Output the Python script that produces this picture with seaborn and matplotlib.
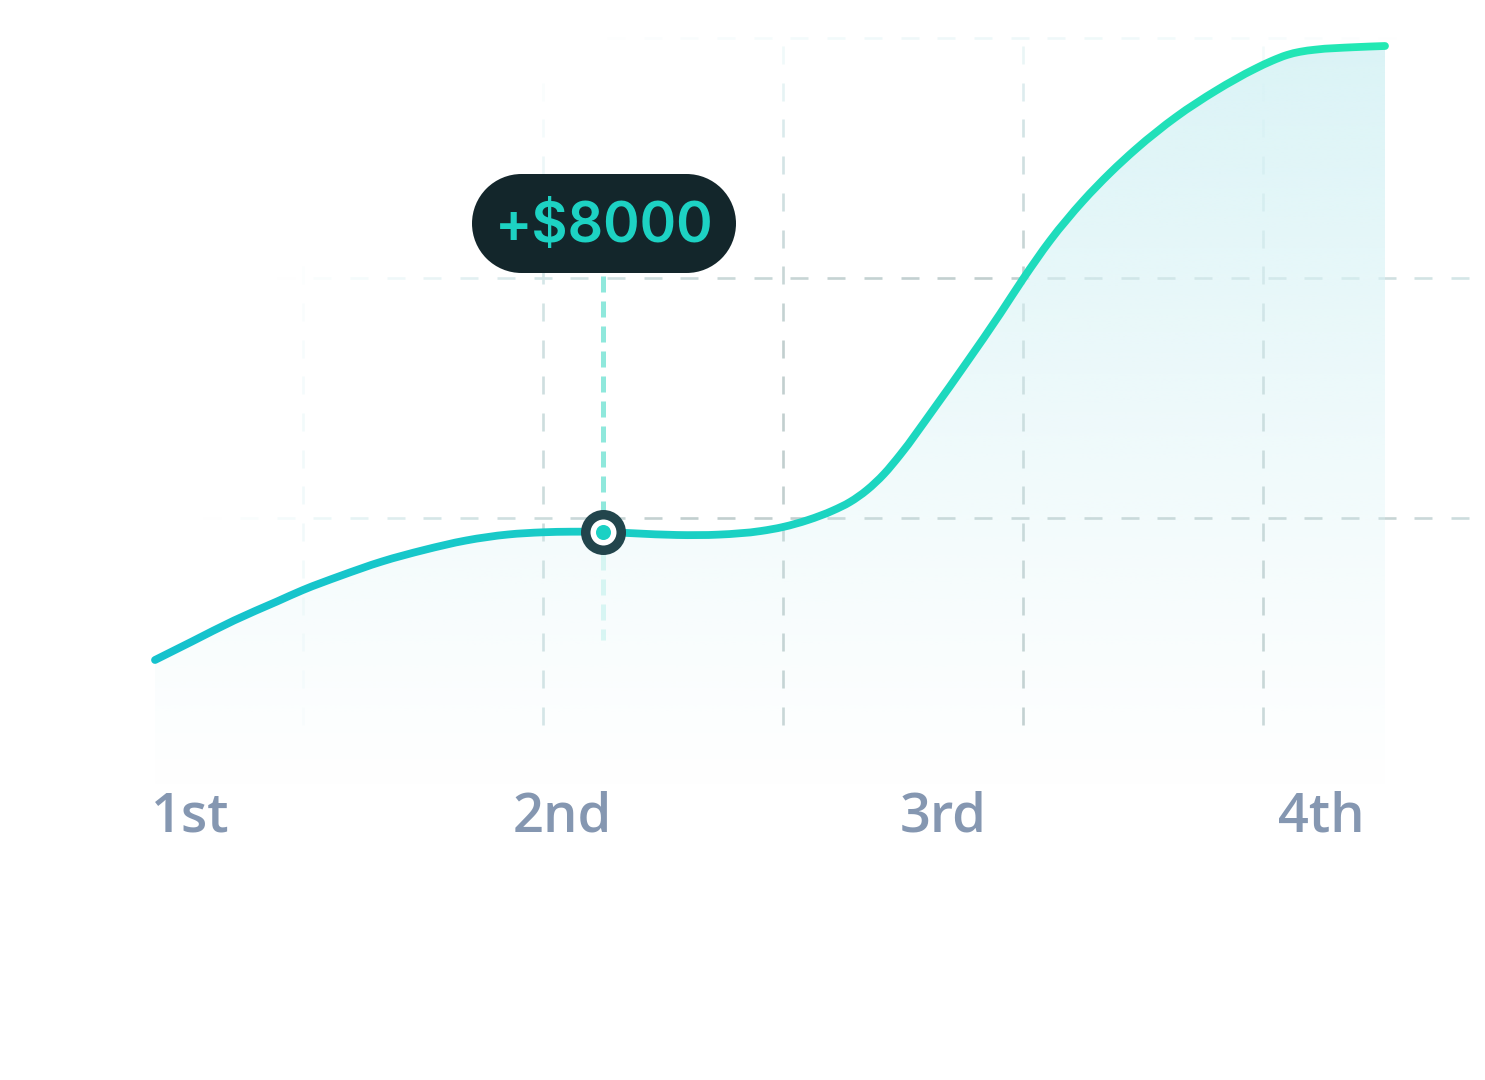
import numpy as np
import matplotlib
matplotlib.use("Agg")
import matplotlib.pyplot as plt
import seaborn as sns
import pandas as pd
from matplotlib.collections import LineCollection
from matplotlib.patches import PathPatch, Rectangle, Circle
from matplotlib.path import Path
from matplotlib.transforms import Bbox, TransformedBbox
from matplotlib.colors import to_rgb

# curve (canvas pixels, y grows downwards)
curve_x = [155, 192, 234, 277, 303, 340, 382, 424, 466, 508, 543, 571, 604, 634,
           677, 719, 761, 783, 808, 833, 850, 867, 884, 900, 933, 967, 1000, 1023, 1050,
           1083, 1110, 1136, 1176, 1216, 1255, 1272, 1287, 1300, 1315, 1354, 1385]
curve_y = [660, 641.5, 620.5, 601.5, 590, 576, 561.5, 550, 540.5, 534.5, 532.3, 531.7, 532, 533.3,
           535, 534.6, 531, 527, 520, 510.5, 502, 490, 474, 455, 410, 362, 314, 279, 240.7,
           201, 173, 149, 117, 90.6, 68.8, 60.8, 55, 51.8, 49.7, 47.2, 46]

quarter_labels = ["1st", "2nd", "3rd", "4th"]
quarter_pos = [190, 562, 943, 1321]

grid_x = [303, 543, 783, 1023, 1263]
grid_y = [38, 278, 518]

highlight_x = 603
highlight_y = 532
highlight_label = "+$8000"

W, H = 1485, 1080
FILL_BOTTOM = 790

sns.set_theme(style="white")
fig = plt.figure(figsize=(W / 100, H / 100), dpi=100)
ax = fig.add_axes([0, 0, 1, 1])
ax.set_facecolor("white")
ax.set_xlim(0, W)
ax.set_ylim(H, 0)

# dashed grid that fades out towards the edges
faint = np.array(to_rgb("#e0f4f6"))
dark = np.array(to_rgb("#c2cfcf"))


def dash_color(x, y):
    r = np.hypot((x - 1000) / 650, (y - 500) / 440)
    s = np.clip((1.1 - r) / 0.6, 0, 1)
    a = np.clip((1.22 - r) / 0.35, 0, 1)
    rgb = faint * (1 - s) + dark * s
    return (*rgb, a)


segs, cols = [], []
for gx in grid_x:
    for y0 in np.arange(46, 725, 36.7):
        segs.append([(gx, y0), (gx, y0 + 18)])
        cols.append(dash_color(gx, y0 + 9))
for gy in grid_y:
    for x0 in np.arange(-17, W, 36.7):
        segs.append([(x0, gy), (x0 + 18, gy)])
        cols.append(dash_color(x0 + 9, gy))
ax.add_collection(LineCollection(segs, colors=cols, linewidths=1.9, zorder=1))

# smooth path through the read points (cubic hermite in x -> bezier segments)
df = pd.DataFrame({"x": curve_x, "y": curve_y})
xs = df.x.to_numpy(float)
ys = df.y.to_numpy(float)
slope = np.gradient(ys, xs)
verts, codes = [(xs[0], ys[0])], [Path.MOVETO]
for i in range(len(xs) - 1):
    dx = xs[i + 1] - xs[i]
    verts += [(xs[i] + dx / 3, ys[i] + slope[i] * dx / 3),
              (xs[i + 1] - dx / 3, ys[i + 1] - slope[i + 1] * dx / 3),
              (xs[i + 1], ys[i + 1])]
    codes += [Path.CURVE4] * 3
curve_path = Path(verts, codes)

# gradient fill under the curve
fill_path = Path(verts + [(xs[-1], FILL_BOTTOM), (xs[0], FILL_BOTTOM), (xs[0], ys[0])],
                 codes + [Path.LINETO, Path.LINETO, Path.CLOSEPOLY])
rows = np.linspace(min(curve_y), FILL_BOTTOM, 400)
alpha = 0.95 * np.clip((FILL_BOTTOM - rows) / (FILL_BOTTOM - min(curve_y)), 0, 1) ** 1.1
img = np.zeros((len(rows), 2, 4))
img[..., :3] = to_rgb("#d9f3f6")
img[..., 3] = alpha[:, None]
im = ax.imshow(img, extent=(curve_x[0], curve_x[-1], FILL_BOTTOM, min(curve_y)),
               origin="upper", aspect="auto", interpolation="bilinear", zorder=2)
clip = PathPatch(fill_path, facecolor="none", edgecolor="none", transform=ax.transData)
ax.add_patch(clip)
im.set_clip_path(clip)
ax.set_xlim(0, W)
ax.set_ylim(H, 0)

# highlight dashed guide
ax.plot([highlight_x, highlight_x], [276, highlight_y - 22], color="#8fe8dc", lw=3.6,
        linestyle=(0, (3.2, 1.8)), zorder=3)
ax.plot([highlight_x, highlight_x], [highlight_y + 22, 640], color="#8fe8dc", lw=3.6,
        alpha=0.3, linestyle=(0, (3.2, 1.8)), zorder=3)

# curve stroke, coloured in narrow vertical strips for the left-to-right gradient
c0, c1 = np.array(to_rgb("#15c2cd")), np.array(to_rgb("#23e9b3"))
edges = np.arange(curve_x[0] - 10, curve_x[-1] + 12, 6)
for a0, a1 in zip(edges[:-1], edges[1:]):
    v = np.clip(((a0 + a1) / 2 - curve_x[0]) / (curve_x[-1] - curve_x[0]), 0, 1) ** 1.3
    stroke = PathPatch(curve_path, facecolor="none", edgecolor=tuple(c0 * (1 - v) + c1 * v),
                       lw=5.6, capstyle="round", joinstyle="round", zorder=4)
    ax.add_patch(stroke)
    stroke.set_clip_box(TransformedBbox(Bbox([[a0, 0], [a1, H]]), ax.transData))

# highlight marker
hp = pd.DataFrame({"x": [highlight_x], "y": [highlight_y]})
sns.scatterplot(data=hp, x="x", y="y", s=1050, color="#22454c", linewidth=0, ax=ax, zorder=5)
sns.scatterplot(data=hp, x="x", y="y", s=350, color="white", linewidth=0, ax=ax, zorder=6)
sns.scatterplot(data=hp, x="x", y="y", s=117, color="#1bd1c4", linewidth=0, ax=ax, zorder=7)

# tooltip bubble (stadium shape)
box_w, box_h, box_top = 264, 99, 174
r = box_h / 2
bx0 = highlight_x + 1 - box_w / 2
for patch in (Rectangle((bx0 + r, box_top), box_w - 2 * r, box_h),
              Circle((bx0 + r, box_top + r), r),
              Circle((bx0 + box_w - r, box_top + r), r)):
    patch.set_facecolor("#13262b")
    patch.set_edgecolor("none")
    patch.set_zorder(8)
    ax.add_patch(patch)
ax.text(highlight_x + 1, 242, highlight_label, ha="center", va="baseline",
        fontsize=40, family=["Inter", "DejaVu Sans"], fontweight="semibold",
        color="#1dd2c3", zorder=9)

# quarter labels
for pos, lab in zip(quarter_pos, quarter_labels):
    ax.text(pos, 832, lab, ha="center", va="baseline", fontsize=39,
            family=["Open Sans", "DejaVu Sans"], fontweight="semibold", color="#8597b1")

ax.set_xlim(0, W)
ax.set_ylim(H, 0)
ax.axis("off")
fig.savefig("out.png", dpi=100, facecolor="white")
